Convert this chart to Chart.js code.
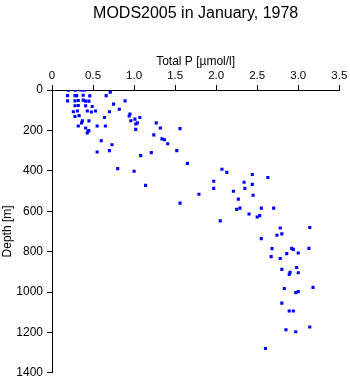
<!DOCTYPE html>
<html>
  <head>
    <meta charset="utf-8">
    <script src="https://cdn.jsdelivr.net/npm/chart.js"></script>
    <style>
      html, body { margin: 0; padding: 0; background: #fff; }
      #wrap { width: 350px; height: 384px; }
    </style>
  </head>
  <body>
    <div id="wrap"><canvas id="chart"></canvas></div>
    <script>
      // Total phosphorus profile, one entry per sample
      const totalP = [
        0.20, 0.28, 0.29, 0.35, 0.38, 0.40, 0.19, 0.28, 0.30, 0.38,
        0.46, 0.66, 0.71, 0.19, 0.28, 0.32, 0.38, 0.41, 0.45, 0.89,
        0.75, 0.28, 0.32, 0.41, 0.49, 0.82, 0.26, 0.31, 0.43, 0.48,
        0.53, 0.70, 0.95, 0.94, 0.28, 0.33, 0.64, 1.07, 1.01, 0.37,
        0.36, 0.45, 0.96, 1.04, 1.02, 1.27, 0.55, 0.65, 0.32, 1.32,
        0.41, 1.56, 1.02, 0.44, 0.45, 0.43, 1.24, 1.34, 1.37, 0.60,
        1.41, 0.73, 0.55, 0.70, 1.21, 1.52, 1.08, 1.65, 0.80, 1.00,
        1.14, 1.79, 1.56, 1.97, 1.97, 2.07, 2.13, 2.44, 2.63, 2.34,
        2.44, 2.21, 2.35, 2.45, 2.27, 2.29, 2.25, 2.55, 2.70, 2.40,
        2.53, 2.50, 2.05, 2.78, 2.74, 2.80, 2.55, 2.68, 2.67, 2.78,
        2.86, 2.94, 2.92, 3.00, 3.13, 2.80, 2.90, 2.89, 2.98, 3.00,
        3.18, 2.83, 3.00, 2.97, 2.80, 2.89, 2.94, 2.85, 2.97, 3.14,
        2.60, 3.14
      ];
      const depth = [
        1, 0, 0, 0, 0, 0, 28, 28, 28, 26,
        29, 28, 11, 54, 54, 52, 50, 55, 55, 54,
        70, 78, 77, 78, 82, 95, 108, 104, 104, 109,
        104, 108, 119, 129, 131, 127, 136, 136, 144, 153,
        163, 153, 152, 163, 168, 163, 178, 178, 178, 188,
        188, 191, 195, 202, 202, 212, 222, 242, 246, 251,
        266, 271, 307, 300, 310, 300, 325, 363, 389, 402,
        472, 516, 560, 452, 487, 392, 408, 418, 433, 457,
        467, 501, 487, 521, 540, 585, 591, 585, 585, 614,
        622, 629, 648, 683, 719, 712, 736, 785, 825, 834,
        810, 789, 784, 807, 784, 888, 903, 913, 879, 905,
        977, 983, 998, 1003, 1055, 1094, 1094, 1187, 1197, 1173,
        1280, 681
      ];

      const points = totalP.map((p, i) => ({ x: p, y: depth[i] }));
      const font = "'Liberation Sans', Arial, Helvetica, sans-serif";

      new Chart(document.getElementById('chart'), {
        type: 'scatter',
        data: {
          datasets: [{
            data: points,
            pointStyle: 'rect',
            pointRadius: 2.2,
            pointHoverRadius: 2.2,
            borderWidth: 0,
            backgroundColor: '#0000ff',
          }],
        },
        options: {
          responsive: true,
          maintainAspectRatio: false,
          animation: false,
          events: [],
          // the last depth label adds its own half height below the axis
          layout: { padding: { top: 0, right: 10.7, bottom: 1.1, left: 0 } },
          plugins: {
            legend: { display: false },
            tooltip: { enabled: false },
            title: {
              display: true,
              text: 'MODS2005 in January, 1978',
              fullSize: false,
              color: '#000',
              font: { family: font, size: 16, weight: 'normal' },
              padding: { top: 4, bottom: 0 },
            },
          },
          scales: {
            x: {
              type: 'linear',
              position: 'top',
              min: 0,
              max: 3.5,
              afterFit: (s) => { s.height = 66.8; },
              border: { display: true, color: '#000', width: 1 },
              grid: { drawOnChartArea: false, drawTicks: true, tickLength: 5, color: '#000' },
              ticks: {
                stepSize: 0.5,
                padding: 2,
                color: '#000',
                font: { family: font, size: 11.5 },
              },
              title: {
                display: true,
                text: 'Total P [µmol/l]',
                color: '#000',
                font: { family: font, size: 12 },
                padding: { top: 31.6, bottom: 0 },
              },
            },
            y: {
              type: 'linear',
              reverse: true,
              min: 0,
              max: 1400,
              afterFit: (s) => { s.width = 52; },
              border: { display: true, color: '#000', width: 1 },
              grid: { drawOnChartArea: false, drawTicks: true, tickLength: 5, color: '#000' },
              ticks: {
                stepSize: 200,
                padding: 4,
                color: '#000',
                font: { family: font, size: 12 },
                callback: (v) => String(v),
              },
              title: {
                display: true,
                text: 'Depth [m]',
                color: '#000',
                font: { family: font, size: 12 },
                padding: { top: 0, bottom: 0 },
              },
            },
          },
        },
      });
    </script>
  </body>
</html>
